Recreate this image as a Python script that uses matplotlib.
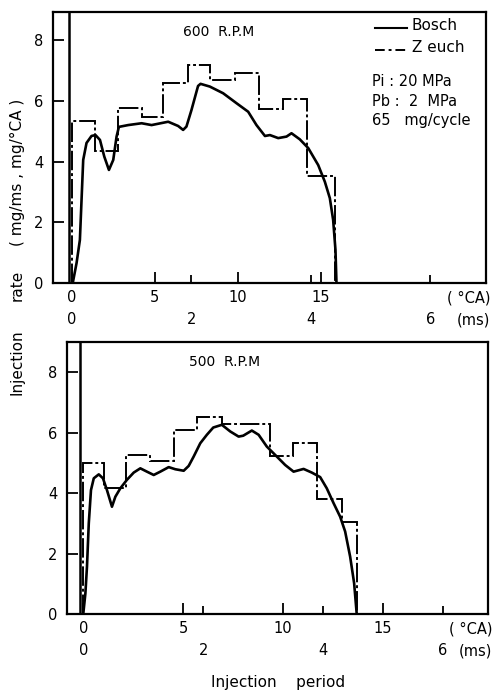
import matplotlib
matplotlib.use('Agg')
import matplotlib.pyplot as plt
from matplotlib.lines import Line2D

plt.rcParams['font.family'] = ['DejaVu Sans']

# ---------------- data ----------------
# 600 R.P.M (top panel), x in degrees crank angle
bosch600_x = [0.05, 0.28, 0.48, 0.58, 0.68, 0.88, 1.18, 1.42, 1.69, 1.95, 2.23, 2.49,
              2.69, 2.83, 3.39, 4.2, 4.8, 5.8, 6.4, 6.7, 6.9, 7.2, 7.6, 7.75, 8.31,
              9.11, 9.92, 10.62, 11.12, 11.63, 11.93, 12.43, 12.93, 13.23, 13.73,
              14.24, 14.84, 15.24, 15.54, 15.74, 15.88, 15.94]
bosch600_y = [0.0, 0.66, 1.42, 2.74, 4.06, 4.62, 4.85, 4.88, 4.72, 4.17, 3.73, 4.06,
              4.83, 5.15, 5.21, 5.27, 5.21, 5.32, 5.18, 5.05, 5.16, 5.7, 6.5, 6.57, 6.48,
              6.26, 5.93, 5.65, 5.21, 4.85, 4.88, 4.78, 4.83, 4.94, 4.74,
              4.45, 3.89, 3.34, 2.8, 2.08, 1.09, 0.0]
zeuch600_edges = [0, 1.42, 2.79, 4.24, 5.5, 6.97, 8.35, 9.82, 11.27, 12.73, 14.14, 15.88]
zeuch600_levels = [5.36, 4.36, 5.76, 5.49, 6.59, 7.19, 6.7, 6.92, 5.73, 6.06, 3.54]

# 500 R.P.M (bottom panel)
bosch500_x = [0.0, 0.1, 0.18, 0.27, 0.38, 0.52, 0.77, 0.98, 1.18, 1.43, 1.6, 1.85,
              2.18, 2.52, 2.85, 3.18, 3.52, 3.85, 4.27, 4.6, 5.02, 5.27, 5.52, 5.85,
              6.18, 6.5, 6.93, 7.35, 7.77, 8.0, 8.43, 8.77, 9.18, 9.68, 10.1, 10.52,
              11.02, 11.43, 11.85, 12.18, 12.52, 12.85, 13.1, 13.35, 13.55, 13.68]
bosch500_y = [0.04, 0.68, 1.57, 3.0, 4.1, 4.49, 4.62, 4.49, 4.1, 3.55, 3.88, 4.16,
              4.44, 4.68, 4.82, 4.71, 4.6, 4.71, 4.86, 4.79, 4.74, 4.9, 5.21, 5.65,
              5.93, 6.17, 6.26, 6.04, 5.87, 5.9, 6.07, 5.93, 5.54, 5.21, 4.93, 4.71,
              4.8, 4.68, 4.53, 4.16, 3.67, 3.22, 2.73, 1.9, 1.02, 0.0]
zeuch500_edges = [0, 1.02, 2.15, 3.35, 4.52, 5.68, 6.93, 9.32, 10.48, 11.68, 12.93, 13.68]
zeuch500_levels = [4.99, 4.16, 5.26, 5.07, 6.09, 6.51, 6.28, 5.23, 5.65, 3.8, 3.06]

start_line_ca = -0.15

ca_ticks = [0, 5, 10, 15]
ms_ticks = [0, 2, 4, 6]
deg_per_ms_600 = 3.6
deg_per_ms_500 = 3.0
y_ticks = [0, 2, 4, 6, 8]

panel_titles = ['600  R.P.M', '500  R.P.M']
legend_names = ['Bosch', 'Z euch']
conditions = ['Pi : 20 MPa', 'Pb :  2  MPa', '65   mg/cycle']
ylabel_parts = ['Injection', 'rate', '( mg/ms , mg/°CA )']

# ---------------- figure ----------------
W, H = 496, 693
fig = plt.figure(figsize=(W / 100, H / 100), dpi=100)

def axes_from_px(l, t, r, b):
    return fig.add_axes([l / W, 1 - b / H, (r - l) / W, (b - t) / H])

ax1 = axes_from_px(53, 12, 486, 283)
ax2 = axes_from_px(67, 342, 488, 614)

zeuch_ls = (0, (10, 1.5, 1.5, 1.5))
FS = 10.5

def style(ax, xlim, ylim, dpm):
    ax.set_xlim(*xlim)
    ax.set_ylim(*ylim)
    for s in ax.spines.values():
        s.set_linewidth(1.6)
    ax.set_xticks(ca_ticks)
    ax.set_xticklabels([str(t) for t in ca_ticks], fontsize=FS)
    ax.set_xticks([m * dpm for m in ms_ticks[1:]], minor=True)
    ax.set_yticks(y_ticks)
    ax.set_yticklabels([str(t) for t in y_ticks], fontsize=FS)
    ax.tick_params(axis='both', which='major', direction='in', length=8, width=1.3, pad=7)
    ax.tick_params(axis='x', which='minor', direction='in', length=6, width=1.3)
    ax.tick_params(axis='x', which='major', pad=5)
    tr = ax.get_xaxis_transform()
    for m in ms_ticks:
        ax.text(m * dpm, -0.135, str(m), transform=tr, ha='center', va='center', fontsize=FS)
    ax.text(1.01, -0.135, '(ms)', transform=ax.transAxes, ha='right', va='center', fontsize=FS)
    ax.text(1.01, -0.055, '( °CA)', transform=ax.transAxes, ha='right', va='center', fontsize=FS)
    ax.axvline(start_line_ca, color='black', lw=1.8)

for ax, bx, by, ze, zl, xlim, ylim, dpm in [
        (ax1, bosch600_x, bosch600_y, zeuch600_edges, zeuch600_levels, (-1.14, 24.95), (0, 8.94), deg_per_ms_600),
        (ax2, bosch500_x, bosch500_y, zeuch500_edges, zeuch500_levels, (-0.82, 20.25), (0, 9.0), deg_per_ms_500)]:
    ax.plot(bx, by, color='black', lw=1.9, solid_joinstyle='round')
    ax.stairs(zl, ze, baseline=0, color='black', lw=1.4, linestyle=zeuch_ls)
    style(ax, xlim, ylim, dpm)

ax1.text(0.30, 0.925, panel_titles[0], transform=ax1.transAxes, ha='left', va='center', fontsize=FS - 0.5)
ax2.text(0.29, 0.925, panel_titles[1], transform=ax2.transAxes, ha='left', va='center', fontsize=FS - 0.5)

# legend and conditions (top panel)
def fx(px):
    return (px - 53) / (486 - 53)

def fy(py):
    return (283 - py) / (283 - 12)

ax1.add_line(Line2D([fx(375), fx(407)], [fy(28), fy(28)], transform=ax1.transAxes, color='black', lw=1.5))
ax1.add_line(Line2D([fx(375), fx(407)], [fy(50), fy(50)], transform=ax1.transAxes, color='black', lw=1.4,
                    linestyle=(0, (5, 2, 1.5, 2))))
ax1.text(fx(412), fy(26), legend_names[0], transform=ax1.transAxes, ha='left', va='center', fontsize=FS + 0.5)
ax1.text(fx(412), fy(47), legend_names[1], transform=ax1.transAxes, ha='left', va='center', fontsize=FS + 0.5)
for i, c in enumerate(conditions):
    ax1.text(fx(372), fy(82 + 19 * i), c, transform=ax1.transAxes, ha='left', va='center', fontsize=FS)

# shared labels
for txt, cy in zip(ylabel_parts, [362, 285, 172]):
    fig.text(17 / W, 1 - cy / H, txt, rotation=90, ha='center', va='center', fontsize=FS + 0.5)
fig.text(278 / W, 1 - 683 / H, 'Injection    period', ha='center', va='center', fontsize=FS + 0.5)

fig.savefig('out.png', dpi=100, facecolor='white')
